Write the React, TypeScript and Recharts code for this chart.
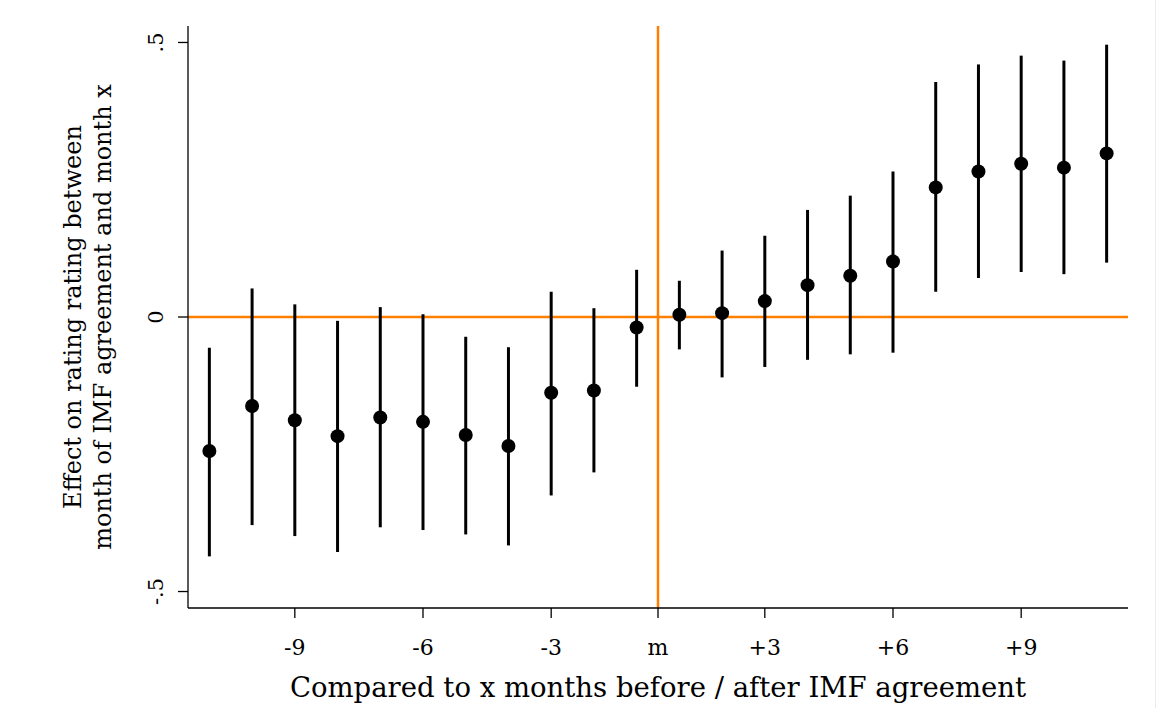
import React from "react";
import {
  ComposedChart,
  Scatter,
  ErrorBar,
  XAxis,
  YAxis,
  ReferenceLine,
} from "recharts";

// months relative to the IMF agreement (no point at m itself)
const months = [-11, -10, -9, -8, -7, -6, -5, -4, -3, -2, -1, 1, 2, 3, 4, 5, 6, 7, 8, 9, 10, 11];
const coef = [
  -0.244, -0.162, -0.188, -0.217, -0.183, -0.191, -0.215, -0.235, -0.138, -0.134, -0.019,
  0.004, 0.007, 0.029, 0.058, 0.075, 0.101, 0.236, 0.265, 0.279, 0.272, 0.298,
];
const ciLow = [
  -0.436, -0.379, -0.399, -0.428, -0.383, -0.388, -0.396, -0.416, -0.325, -0.283, -0.127,
  -0.059, -0.11, -0.091, -0.078, -0.068, -0.065, 0.046, 0.071, 0.082, 0.078, 0.099,
];
const ciHigh = [
  -0.056, 0.052, 0.023, -0.007, 0.018, 0.005, -0.036, -0.055, 0.046, 0.016, 0.086,
  0.066, 0.121, 0.148, 0.195, 0.221, 0.265, 0.428, 0.46, 0.476, 0.467, 0.496,
];

const xTickMonths = [-9, -6, -3, 0, 3, 6, 9];
const xTickLabels = ["-9", "-6", "-3", "m", "+3", "+6", "+9"];
const yTicks = [-0.5, 0, 0.5];
const yTickLabels = ["-.5", "0", ".5"];

const FONT = "'DejaVu Serif', serif";
const ORANGE = "#ff8000";

// month m sits between -1 and +1
const pos = (m: number) => (m < 0 ? m + 0.5 : m > 0 ? m - 0.5 : 0);

const data = months.map((m, i) => ({
  x: pos(m),
  y: coef[i],
  err: [coef[i] - ciLow[i], ciHigh[i] - coef[i]],
}));

const xTickPos = xTickMonths.map(pos);

const XTick = ({ x, y, payload }: any) => {
  const idx = xTickPos.indexOf(payload.value);
  return (
    <text x={x} y={y + 35} textAnchor="middle" fontFamily={FONT} fontSize={22} fill="#000">
      {xTickLabels[idx]}
    </text>
  );
};

const YTick = ({ x, y, payload }: any) => {
  const idx = yTicks.indexOf(payload.value);
  const bx = x - 13;
  return (
    <text
      x={bx}
      y={y}
      transform={`rotate(-90, ${bx}, ${y})`}
      textAnchor="middle"
      fontFamily={FONT}
      fontSize={21}
      fill="#000"
    >
      {yTickLabels[idx]}
    </text>
  );
};

const XTitle = ({ viewBox }: any) => (
  <text
    x={viewBox.x + viewBox.width / 2}
    y={viewBox.y + 89}
    textAnchor="middle"
    fontFamily={FONT}
    fontSize={27.5}
    fill="#000"
  >
    Compared to x months before / after IMF agreement
  </text>
);

const YTitle = ({ viewBox }: any) => {
  const cy = viewBox.y + viewBox.height / 2;
  return (
    <g fontFamily={FONT} fontSize={24} fill="#000">
      <text x={81} y={cy} transform={`rotate(-90, 81, ${cy})`} textAnchor="middle">
        Effect on rating rating between
      </text>
      <text x={111} y={cy} transform={`rotate(-90, 111, ${cy})`} textAnchor="middle">
        month of IMF agreement and month x
      </text>
    </g>
  );
};

const Dot = (props: any) => <circle cx={props.cx} cy={props.cy} r={7} fill="#000" />;

export default function App() {
  return (
    <div
      style={{
        position: "absolute",
        left: 0,
        top: 0,
        width: 1155,
        height: 708,
        background: "#fff",
        borderRight: "1px solid #ececec",
      }}
    >
      <ComposedChart
        width={1156}
        height={708}
        data={data}
        margin={{ top: 26, right: 28, bottom: 0, left: 0 }}
      >
        <XAxis
          type="number"
          dataKey="x"
          domain={[-11, 11]}
          ticks={xTickPos}
          interval={0}
          height={100}
          tickSize={10}
          tick={<XTick />}
          axisLine={{ stroke: "#000", strokeWidth: 1.3 }}
          tickLine={{ stroke: "#000", strokeWidth: 1.3 }}
          label={<XTitle />}
        />
        <YAxis
          type="number"
          domain={[-0.53, 0.53]}
          allowDataOverflow
          ticks={yTicks}
          interval={0}
          width={188}
          tickSize={10}
          tick={<YTick />}
          axisLine={{ stroke: "#000", strokeWidth: 1.3 }}
          tickLine={{ stroke: "#000", strokeWidth: 1.3 }}
          label={<YTitle />}
        />
        <ReferenceLine y={0} stroke={ORANGE} strokeWidth={2.5} />
        <ReferenceLine x={0} stroke={ORANGE} strokeWidth={2.5} />
        <Scatter dataKey="y" fill="#000" shape={<Dot />} isAnimationActive={false}>
          <ErrorBar dataKey="err" direction="y" width={0} stroke="#000" strokeWidth={3} />
        </Scatter>
      </ComposedChart>
    </div>
  );
}
